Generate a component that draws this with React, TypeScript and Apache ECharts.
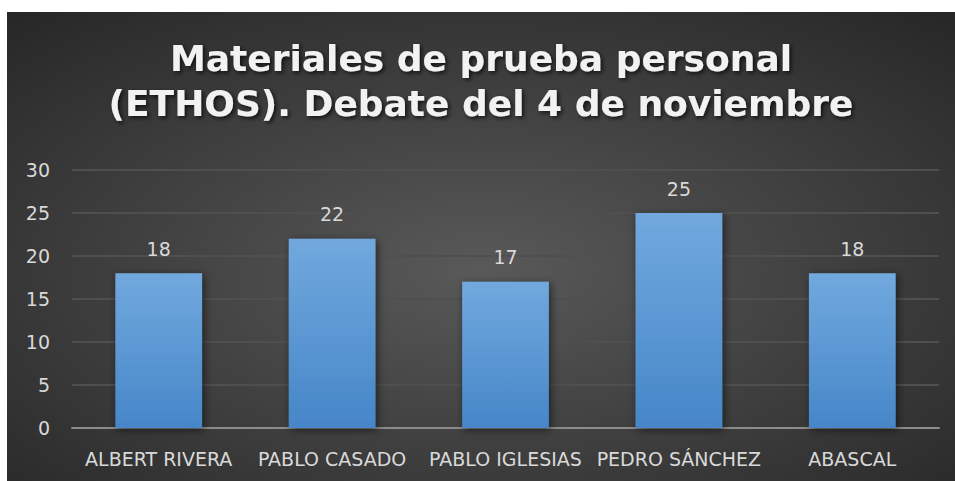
import React, { useEffect, useRef } from "react";
import * as echarts from "echarts";

const categories = ["ALBERT RIVERA", "PABLO CASADO", "PABLO IGLESIAS", "PEDRO SÁNCHEZ", "ABASCAL"];
const values = [18, 22, 17, 25, 18];
const titleLines = ["Materiales de prueba personal", "(ETHOS). Debate del 4 de noviembre"];
const yTicks = { min: 0, max: 30, interval: 5 };

const FONT = "DejaVu Sans";

export default function App() {
  const ref = useRef<HTMLDivElement>(null);
  useEffect(() => {
    if (!ref.current) return;
    const chart = echarts.init(ref.current, null, { renderer: "svg" });
    chart.setOption({
      animation: false,
      backgroundColor: new echarts.graphic.RadialGradient(0.5, 0.55, 0.75, [
        { offset: 0, color: "#595959" },
        { offset: 1, color: "#262626" },
      ]),
      title: {
        text: titleLines.join("\n"),
        left: "center",
        top: 24,
        padding: [0, 0, 0, 28],
        textStyle: {
          fontFamily: FONT,
          fontWeight: "bold",
          fontSize: 36,
          lineHeight: 45,
          color: "#f2f2f2",
          textShadowColor: "rgba(0,0,0,0.7)",
          textShadowBlur: 4,
          textShadowOffsetX: 2,
          textShadowOffsetY: 2,
        },
      },
      grid: { left: 65, right: 16, top: 158, bottom: 53, containLabel: false },
      xAxis: {
        type: "category",
        data: categories,
        axisTick: { show: false },
        axisLine: { show: true, lineStyle: { color: "#8c8c8c", width: 2 } },
        axisLabel: { color: "#d9d9d9", fontSize: 19, fontFamily: FONT, margin: 21, interval: 0 },
      },
      yAxis: {
        type: "value",
        min: yTicks.min,
        max: yTicks.max,
        interval: yTicks.interval,
        axisLine: { show: false },
        axisTick: { show: false },
        axisLabel: { color: "#d9d9d9", fontSize: 19, fontFamily: FONT, margin: 22 },
        splitLine: { lineStyle: { color: "#4f4f4f", width: 2 } },
      },
      series: [
        {
          type: "bar",
          data: values,
          barWidth: "50%",
          itemStyle: {
            color: new echarts.graphic.LinearGradient(0, 0, 0, 1, [
              { offset: 0, color: "#71a9de" },
              { offset: 1, color: "#4686c8" },
            ]),
            shadowColor: "rgba(0,0,0,0.55)",
            shadowBlur: 8,
            shadowOffsetX: 2,
            shadowOffsetY: 2,
          },
          label: {
            show: true,
            position: "top",
            distance: 15,
            color: "#d9d9d9",
            fontSize: 19,
            fontFamily: FONT,
          },
        },
      ],
    });
    return () => chart.dispose();
  }, []);
  return (
    <div
      ref={ref}
      style={{ position: "absolute", left: 7, top: 12, width: 948, height: 469 }}
    />
  );
}
